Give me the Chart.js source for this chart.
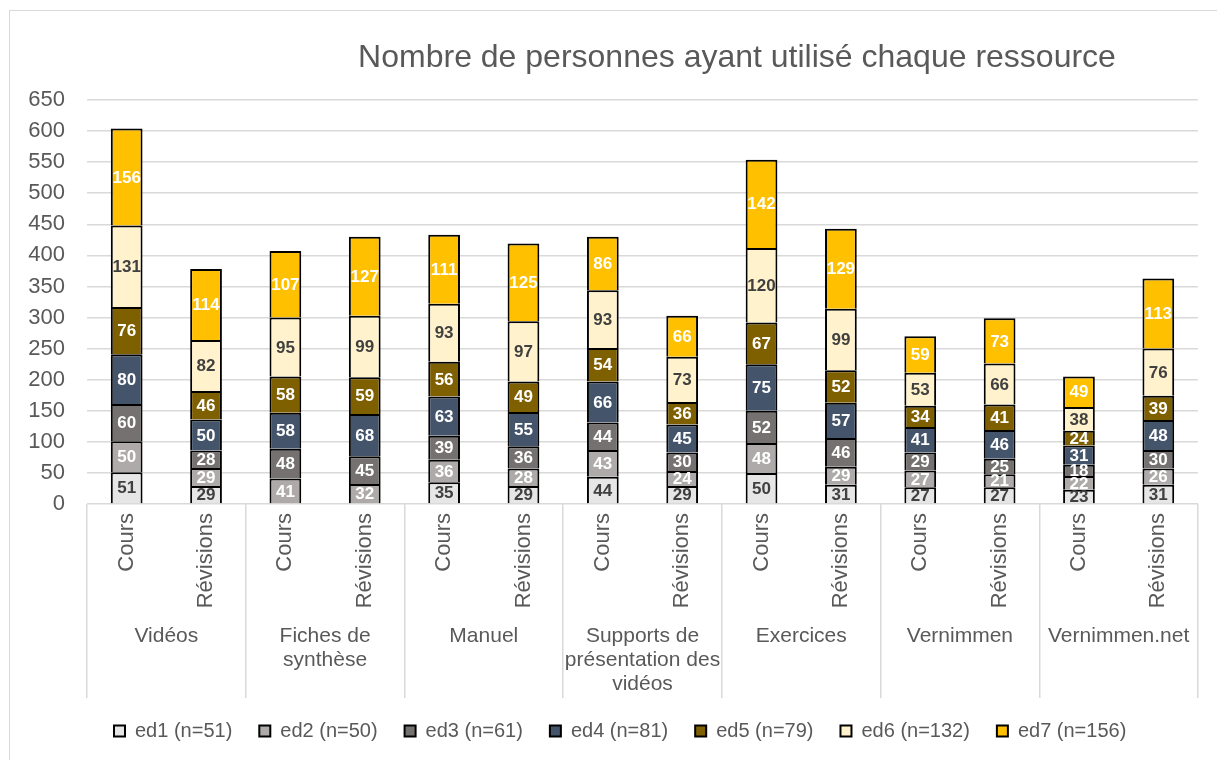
<!DOCTYPE html>
<html>
<head>
<meta charset="utf-8">
<script src="https://cdn.jsdelivr.net/npm/chart.js@4"></script>
<style>
    html, body { margin: 0; padding: 0; background: #fff; overflow: hidden; }
    #frame { position: absolute; left: 9px; top: 10px; width: 1300px; height: 800px;
             border-left: 1px solid #d9d9d9; border-top: 1px solid #d9d9d9; }
    #wrap { position: absolute; left: 0; top: 0; width: 1217px; height: 760px; }
</style>
</head>
<body>
<div id="frame"></div>
<div id="wrap"><canvas id="chart"></canvas></div>
<script>
const titleText = "Nombre de personnes ayant utilisé chaque ressource";
const groups = [["Vidéos"], ["Fiches de", "synthèse"], ["Manuel"], ["Supports de", "présentation des", "vidéos"], ["Exercices"], ["Vernimmen"], ["Vernimmen.net"]];
const phases = ["Cours", "Révisions"];
const seriesNames = ["ed1 (n=51)", "ed2 (n=50)", "ed3 (n=61)", "ed4 (n=81)", "ed5 (n=79)", "ed6 (n=132)", "ed7 (n=156)"];

// one value per bar: Vidéos C/R, Fiches C/R, Manuel C/R, Supports C/R, Exercices C/R, Vernimmen C/R, Vernimmen.net C/R
const ed1 = [51, 29, null, null, 35, 29, 44, 29, 50, 31, 27, 27, 23, 31];
const ed2 = [50, 29, 41, 32, 36, 28, 43, 24, 48, 29, 27, 21, 22, 26];
const ed3 = [60, 28, 48, 45, 39, 36, 44, 30, 52, 46, 29, 25, 18, 30];
const ed4 = [80, 50, 58, 68, 63, 55, 66, 45, 75, 57, 41, 46, 31, 48];
const ed5 = [76, 46, 58, 59, 56, 49, 54, 36, 67, 52, 34, 41, 24, 39];
const ed6 = [131, 82, 95, 99, 93, 97, 93, 73, 120, 99, 53, 66, 38, 76];
const ed7 = [156, 114, 107, 127, 111, 125, 86, 66, 142, 129, 59, 73, 49, 113];

const yMax = 650;
const yStep = 50;

const fillColors = ["#e7e6e6", "#aeaaaa", "#767171", "#44546a", "#7f6000", "#fff2cc", "#ffc000"];
const labelColors = ["#404040", "#ffffff", "#ffffff", "#ffffff", "#ffffff", "#404040", "#ffffff"];
const textGray = "#595959";
const gridGray = "#d9d9d9";
const fontFamily = "'Liberation Sans', Arial, sans-serif";

const barLabels = groups.flatMap(() => phases);
const allSeries = [ed1, ed2, ed3, ed4, ed5, ed6, ed7];

const datasets = allSeries.map((values, i) => ({
    label: seriesNames[i],
    data: values,
    backgroundColor: fillColors[i],
    borderColor: "#000000",
    borderWidth: 2,
    categoryPercentage: 1.0,
    barPercentage: 0.4,
    labelColor: labelColors[i]
}));

// values in the middle of each segment
const segmentLabels = {
    id: "segmentLabels",
    afterDatasetsDraw(chart) {
        const ctx = chart.ctx;
        ctx.save();
        ctx.font = "bold 17px " + fontFamily;
        ctx.textAlign = "center";
        ctx.textBaseline = "middle";
        chart.data.datasets.forEach((ds, di) => {
            const meta = chart.getDatasetMeta(di);
            meta.data.forEach((bar, i) => {
                const v = ds.data[i];
                if (v === null || v === undefined) return;
                ctx.fillStyle = ds.labelColor;
                ctx.fillText(String(v), bar.x, (bar.y + bar.base) / 2 + 1);
            });
        });
        ctx.restore();
    }
};

// title sits right of centre, as in the original
const offsetTitle = {
    id: "offsetTitle",
    afterDraw(chart) {
        const ctx = chart.ctx;
        ctx.save();
        ctx.font = "32px " + fontFamily;
        ctx.fillStyle = textGray;
        ctx.textAlign = "center";
        ctx.textBaseline = "middle";
        ctx.fillText(titleText, 737, 58);
        ctx.restore();
    }
};

const groupLine = (ctx) => (ctx.index === undefined || ctx.index % 2 === 0) ? gridGray : "rgba(0,0,0,0)";

new Chart(document.getElementById("chart"), {
    type: "bar",
    data: { labels: barLabels, datasets: datasets },
    plugins: [segmentLabels, offsetTitle],
    options: {
        responsive: true,
        maintainAspectRatio: false,
        animation: false,
        layout: { padding: { left: 0, right: 19, top: 100, bottom: 9 } },
        plugins: {
            title: { display: false },
            tooltip: { enabled: false },
            legend: {
                position: "bottom",
                fullSize: false,
                align: "start",
                labels: {
                    boxWidth: 11,
                    boxHeight: 11,
                    padding: 27,
                    color: textGray,
                    font: { family: fontFamily, size: 20 }
                }
            }
        },
        scales: {
            y: {
                stacked: true,
                min: 0,
                max: yMax,
                ticks: { stepSize: yStep, padding: 22, color: textGray, font: { family: fontFamily, size: 22 } },
                grid: { color: gridGray, lineWidth: 1.5, drawTicks: false },
                border: { display: false },
                afterFit(scale) { scale.width = 87; }
            },
            x: {
                stacked: true,
                offset: true,
                ticks: {
                    autoSkip: false,
                    minRotation: 90,
                    maxRotation: 90,
                    padding: -107,
                    color: textGray,
                    font: { family: fontFamily, size: 22 }
                },
                grid: { offset: true, drawOnChartArea: false, tickLength: 116, color: groupLine, lineWidth: 1.5 },
                border: { display: false },
                afterFit(scale) { scale.height = 116; }
            },
            x2: {
                type: "category",
                position: "bottom",
                labels: groups,
                offset: true,
                ticks: {
                    autoSkip: false,
                    maxRotation: 0,
                    padding: -74,
                    color: textGray,
                    font: { family: fontFamily, size: 21, lineHeight: 1.15 }
                },
                grid: { offset: true, drawOnChartArea: false, tickLength: 78, color: gridGray, lineWidth: 1.5 },
                border: { display: false },
                afterFit(scale) { scale.height = 74; }
            }
        }
    }
});
</script>
</body>
</html>
